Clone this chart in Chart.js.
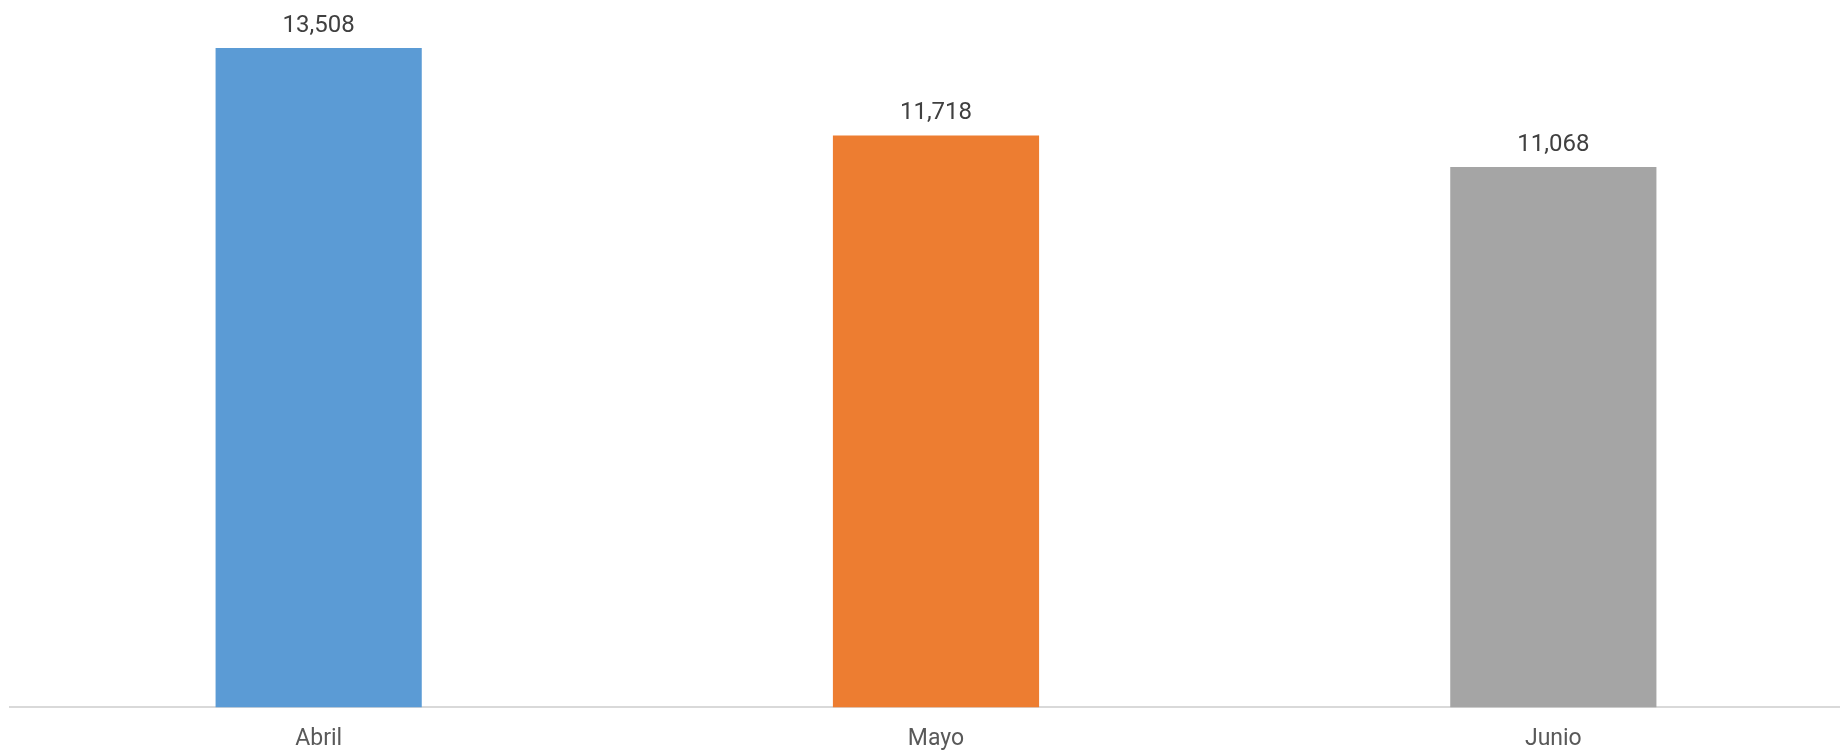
<!DOCTYPE html>
<html>
<head>
<meta charset="utf-8">
<script src="https://cdn.jsdelivr.net/npm/chart.js@4/dist/chart.umd.min.js"></script>
<style>
  html, body { margin: 0; padding: 0; background: #fff; overflow: hidden; }
  #wrap { width: 1840px; height: 750px; overflow: hidden; }
</style>
</head>
<body>
<div id="wrap"><canvas id="monthsChart" width="1862" height="771"></canvas></div>
<script>
const months = ["Abril", "Mayo", "Junio"];
const totals = [13508, 11718, 11068];
const barColors = ["#5B9BD5", "#ED7D31", "#A5A5A5"];

// draws the value above each bar
const valueLabels = {
  id: "valueLabels",
  afterDatasetsDraw(chart) {
    const ctx = chart.ctx;
    const meta = chart.getDatasetMeta(0);
    ctx.save();
    ctx.font = "24px Roboto";
    ctx.fillStyle = "#404040";
    ctx.textAlign = "center";
    ctx.textBaseline = "bottom";
    meta.data.forEach((bar, i) => {
      ctx.fillText(totals[i].toLocaleString("en-US"), bar.x, bar.y - 10);
    });
    ctx.restore();
  }
};

new Chart(document.getElementById("monthsChart"), {
  type: "bar",
  data: {
    labels: months,
    datasets: [
      {
        data: totals,
        backgroundColor: barColors,
        barPercentage: 1,
        categoryPercentage: 0.334
      }
    ]
  },
  options: {
    responsive: false,
    animation: false,
    layout: { padding: { top: 24, left: 10, right: 0, bottom: 0 } },
    plugins: {
      legend: { display: false },
      tooltip: { enabled: false }
    },
    scales: {
      x: {
        grid: { display: true, color: "transparent", drawTicks: false, drawOnChartArea: false },
        border: { display: true, color: "#d9d9d9", width: 2 },
        ticks: { color: "#595959", font: { family: "Roboto", size: 23 }, padding: 18 }
      },
      y: {
        display: false,
        min: 0,
        max: 14000
      }
    }
  },
  plugins: [valueLabels]
});
</script>
</body>
</html>
